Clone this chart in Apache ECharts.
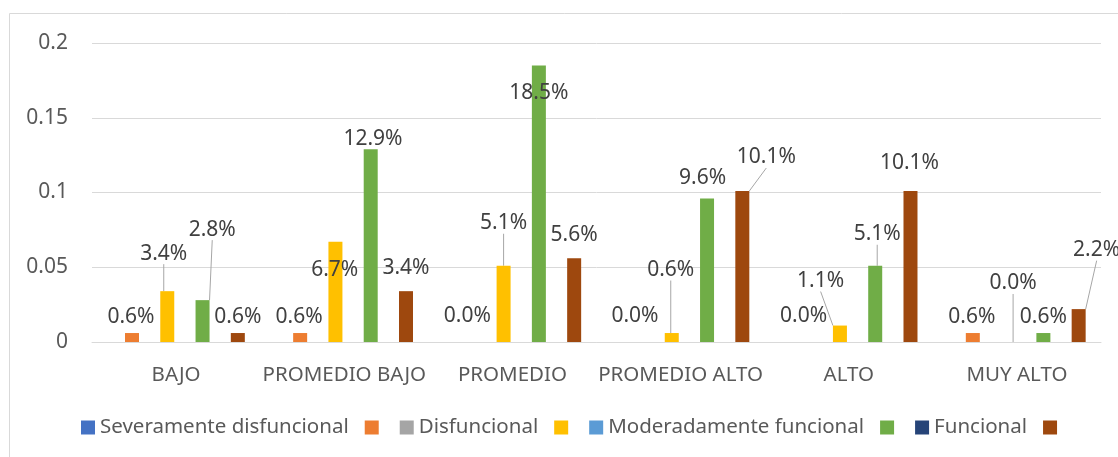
<!DOCTYPE html>
<html>
<head>
<meta charset="utf-8">
<script src="https://cdn.jsdelivr.net/npm/echarts@6/dist/echarts.min.js"></script>
<style>
  html, body { margin: 0; padding: 0; background: #fff; }
  #main { width: 1118px; height: 457px; }
</style>
</head>
<body>
<div id="main"></div>
<script>
// categorias del eje x
var categories = ['BAJO', 'PROMEDIO BAJO', 'PROMEDIO', 'PROMEDIO ALTO', 'ALTO', 'MUY ALTO'];

// series con nombre (no tienen barras visibles)
var severamente = [0, 0, 0, 0, 0, 0];
var disfuncional = [0, 0, 0, 0, 0, 0];
var moderado = [0, 0, 0, 0, 0, 0];
var funcional = [0, 0, 0, 0, 0, 0];

// series sin nombre en la leyenda
var naranja = [0.006, 0.006, 0.0, 0.0, 0.0, 0.006];
var amarillo = [0.034, 0.067, 0.051, 0.006, 0.011, 0.0];
var verde = [0.028, 0.129, 0.185, 0.096, 0.051, 0.006];
var marron = [0.006, 0.034, 0.056, 0.101, 0.101, 0.022];

var yTicks = [0, 0.05, 0.1, 0.15, 0.2];

// desplazamiento de etiquetas [dx, dy], como quedaron movidas en excel
var shiftNaranja = [[-1, 0], [-1, 0], [-1, -9], [-1.5, -9], [-1, -9], [-1, 0]];
var shiftAmarillo = [[-3.5, -21], [-0.7, 45], [0, -26], [-1, -46.5], [-19.3, -28], [5, -42]];
var shiftVerde = [[9.7, -54], [2.3, 6], [0, 44], [-4.5, -4], [2, -15], [0, 0]];
var shiftMarron = [[0, 0], [0, -7], [0, -7], [24, -17], [-1, -11], [18, -42.5]];
// que etiquetas llevan linea guia
var guiaAmarillo = [1, 0, 1, 1, 1, 1];
var guiaVerde = [1, 0, 0, 0, 1, 0];
var guiaMarron = [0, 0, 0, 1, 0, 1];

var myChart = echarts.init(document.getElementById('main'));
var font = '"Noto Sans", sans-serif';

function items(values, guides) {
    return values.map(function (v, i) {
        var it = { value: v };
        if (guides && guides[i]) {
            it.labelLine = { show: true, lineStyle: { color: '#A6A6A6', width: 1 } };
        }
        return it;
    });
}

var shifts = { 1: shiftNaranja, 3: shiftAmarillo, 5: shiftVerde, 7: shiftMarron };

function barSerie(name, color, data, withLabel) {
    return {
        name: name,
        type: 'bar',
        barWidth: 14,
        barGap: '26%',
        itemStyle: { color: color },
        label: {
            show: withLabel,
            position: 'top',
            distance: 6,
            fontFamily: font,
            fontSize: 21,
            color: '#404040',
            formatter: function (p) { return (p.value * 100).toFixed(1) + '%'; }
        },
        data: data
    };
}

var option = {
    animation: false,
    textStyle: { fontFamily: font },
    graphic: [{
        type: 'rect',
        shape: { x: 9.5, y: 13.5, width: 1130, height: 470 },
        style: { fill: null, stroke: '#D9D9D9', lineWidth: 1 },
        silent: true
    }],
    grid: { left: 92, right: 17, top: 43, bottom: 115 },
    legend: {
        left: 76,
        top: 412,
        itemWidth: 14,
        itemHeight: 14,
        itemGap: 16,
        icon: 'rect',
        textStyle: { fontFamily: font, fontSize: 20.5, color: '#595959' },
        // las series sin nombre solo muestran el cuadrito
        formatter: function (name) { return name.indexOf('_') === 0 ? '\u200b' : name; }
    },
    xAxis: {
        type: 'category',
        data: categories,
        axisLine: { lineStyle: { color: '#D9D9D9', width: 1 } },
        axisTick: { show: false },
        axisLabel: { fontFamily: font, fontSize: 20.5, color: '#595959', margin: 23, interval: 0 }
    },
    yAxis: {
        type: 'value',
        min: yTicks[0],
        max: yTicks[yTicks.length - 1],
        interval: 0.05,
        axisLine: { show: false },
        axisTick: { show: false },
        splitLine: { lineStyle: { color: '#D9D9D9', width: 1 } },
        axisLabel: { fontFamily: font, fontSize: 21, color: '#595959', margin: 24 }
    },
    labelLayout: function (p) {
        var s = shifts[p.seriesIndex];
        if (!s) return {};
        var d = s[p.dataIndex];
        return { dx: d[0], dy: d[1] };
    },
    series: [
        barSerie('Severamente disfuncional', '#4472C4', items(severamente), false),
        barSerie('_s2', '#ED7D31', items(naranja), true),
        barSerie('Disfuncional', '#A5A5A5', items(disfuncional), false),
        barSerie('_s4', '#FFC000', items(amarillo, guiaAmarillo), true),
        barSerie('Moderadamente funcional', '#5B9BD5', items(moderado), false),
        barSerie('_s6', '#70AD47', items(verde, guiaVerde), true),
        barSerie('Funcional', '#264478', items(funcional), false),
        barSerie('_s8', '#9E480E', items(marron, guiaMarron), true)
    ]
};

myChart.setOption(option);
</script>
</body>
</html>
